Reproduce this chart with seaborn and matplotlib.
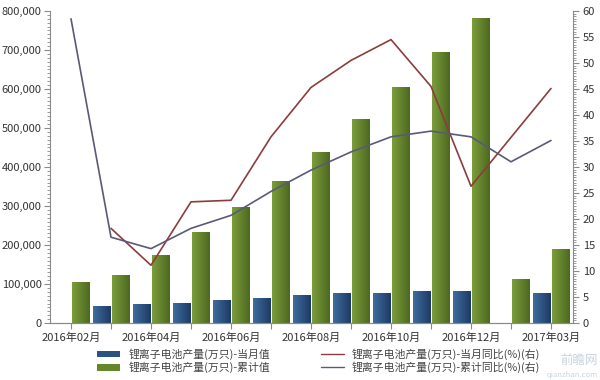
import matplotlib
matplotlib.use("Agg")
import matplotlib.pyplot as plt
from matplotlib.lines import Line2D
from matplotlib.patches import Patch
from matplotlib.ticker import FuncFormatter, MultipleLocator
from matplotlib.colors import LinearSegmentedColormap
import numpy as np
import pandas as pd
import seaborn as sns

months = ["2016年02月", "2016年03月", "2016年04月", "2016年05月", "2016年06月",
          "2016年07月", "2016年08月", "2016年09月", "2016年10月", "2016年11月",
          "2016年12月", "2017年02月", "2017年03月"]
shown_labels = ["2016年02月", "2016年04月", "2016年06月", "2016年08月",
                "2016年10月", "2016年12月", "2017年03月"]

monthly = [np.nan, 43000, 49000, 52000, 58000, 63000, 72000, 78000, 78000,
           83000, 83000, np.nan, 76000]
cumulative = [106000, 122000, 175000, 233000, 297000, 365000, 438000, 524000,
              605000, 694000, 783000, 113000, 191000]
monthly_yoy = [np.nan, 18.2, 11.1, 23.3, 23.6, 35.8, 45.3, 50.5, 54.5, 45.5,
               26.3, np.nan, 45.1]
cum_yoy = [58.5, 16.5, 14.3, 18.2, 20.7, 25.3, 29.4, 32.9, 35.8, 36.9, 35.8,
           31.0, 35.1]

names = ["锂离子电池产量(万只)-当月值", "锂离子电池产量(万只)-累计值",
         "锂离子电池产量(万只)-当月同比(%)(右)", "锂离子电池产量(万只)-累计同比(%)(右)"]

BLUE = "#2c5282"
GREEN = "#66862c"
RED = "#8c3c3c"
PURPLE = "#5a5a78"
AXIS = "#8a8a8a"
TEXT = "#333333"

sns.set_theme(style="white")
plt.rcParams["font.family"] = ["Noto Sans CJK SC", "DejaVu Sans"]
plt.rcParams["axes.unicode_minus"] = False

bars = pd.DataFrame({
    "month": months * 2,
    "series": [names[0]] * len(months) + [names[1]] * len(months),
    "value": monthly + cumulative,
})
lines = pd.DataFrame({
    "pos": np.arange(len(months)),
    "monthly_yoy": monthly_yoy,
    "cum_yoy": cum_yoy,
})

fig = plt.figure(figsize=(6, 3.8), dpi=100)
ax = fig.add_axes([50 / 600, 57 / 380, 523 / 600, 312 / 380])

sns.barplot(data=bars, x="month", y="value", hue="series", order=months,
            hue_order=names[:2], palette=[BLUE, GREEN], saturation=1,
            width=0.95, gap=0.1, errorbar=None, legend=False, ax=ax)

# horizontal gradient on each bar, light on the left, dark on the right
grad = np.linspace(0, 1, 64).reshape(1, -1)
cmaps = [
    LinearSegmentedColormap.from_list("b", ["#3f6d9f", "#1d3a64"]),
    LinearSegmentedColormap.from_list("g", ["#7c9d3b", "#4d6920"]),
]
for container, cm in zip(ax.containers, cmaps):
    for p in container:
        h = p.get_height()
        if not np.isfinite(h) or h == 0:
            continue
        x0, y0, w = p.get_x(), p.get_y(), p.get_width()
        im = ax.imshow(grad, cmap=cm, aspect="auto",
                       extent=[x0, x0 + w, y0, y0 + h],
                       zorder=p.get_zorder() + 0.1)
        im.set_clip_path(p)

ax.set_xlim(-0.525, 12.55)
ax.set_ylim(0, 800000)
ax.yaxis.set_major_locator(MultipleLocator(100000))
ax.yaxis.set_minor_locator(MultipleLocator(10000))
ax.yaxis.set_major_formatter(FuncFormatter(lambda v, _: f"{v:,.0f}"))
ax.set_xticks(np.arange(len(months)))
ax.set_xticklabels([m if m in shown_labels else "" for m in months])
ax.set_xlabel("")
ax.set_ylabel("")

ax2 = ax.twinx()
sns.lineplot(data=lines, x="pos", y="monthly_yoy", color=RED, linewidth=1.2, ax=ax2)
sns.lineplot(data=lines, x="pos", y="cum_yoy", color=PURPLE, linewidth=1.2, ax=ax2)
ax2.set_ylim(0, 60)
ax2.set_xlim(-0.525, 12.55)
ax2.yaxis.set_major_locator(MultipleLocator(5))
ax2.yaxis.set_minor_locator(MultipleLocator(0.5))
ax2.set_xlabel("")
ax2.set_ylabel("")

for a in (ax, ax2):
    a.spines["top"].set_visible(False)
    for s in ("left", "right", "bottom"):
        a.spines[s].set_color(AXIS)
        a.spines[s].set_linewidth(0.8)
    a.tick_params(colors=AXIS, labelcolor=TEXT, labelsize=8, width=0.8)
    a.tick_params(which="major", length=4)
    a.tick_params(which="minor", length=2, width=0.6, colors=AXIS)
ax.spines["right"].set_visible(False)
ax2.spines["left"].set_visible(False)
ax.tick_params(axis="y", which="both", left=True, pad=2)
ax.tick_params(axis="x", bottom=True, length=4, pad=3)
ax2.tick_params(axis="y", which="both", right=True, pad=3)

handles = [
    Patch(facecolor=BLUE, edgecolor="none"),
    Patch(facecolor=GREEN, edgecolor="none"),
    Line2D([], [], color=RED, linewidth=1.0),
    Line2D([], [], color=PURPLE, linewidth=1.0),
]
fig.legend(handles, names, loc="upper left", bbox_to_anchor=(92 / 600, 1 - 343 / 380),
           ncol=2, frameon=False, fontsize=7.8, labelcolor="#444444",
           handlelength=2.1, handleheight=0.6, handletextpad=0.75,
           columnspacing=4.7, labelspacing=0.15, borderpad=0)

# faint watermark, kept in the corner so it does not sit on the legend
fig.text(0.997, 0.035, "前瞻网", fontsize=9, color="#c9d3e0",
         ha="right", va="bottom")
fig.text(0.997, 0.003, "qianzhan.com", fontsize=5.5, color="#c9d3e0",
         ha="right", va="bottom")

fig.savefig("out.png", dpi=100)
